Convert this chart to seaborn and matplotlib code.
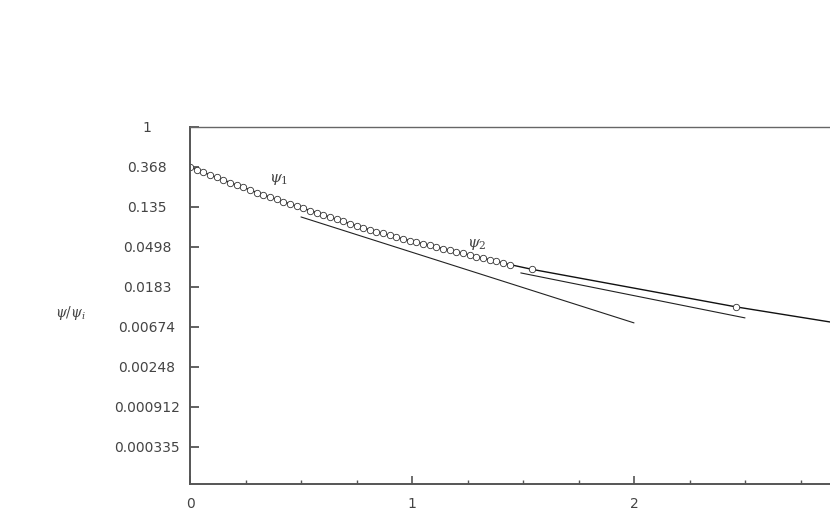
import numpy as np
import pandas as pd
import seaborn as sns
import matplotlib
matplotlib.use('Agg')
import matplotlib.pyplot as plt

# measured curve, natural log of psi/psi_i (axis is e-based)
x_data = [0.00, 0.03, 0.06, 0.09, 0.12, 0.15, 0.18, 0.21, 0.24, 0.27,
          0.30, 0.33, 0.36, 0.39, 0.42, 0.45, 0.48, 0.51, 0.54, 0.57,
          0.60, 0.63, 0.66, 0.69, 0.72, 0.75, 0.78, 0.81, 0.84, 0.87,
          0.90, 0.93, 0.96, 0.99, 1.02, 1.05, 1.08, 1.11, 1.14, 1.17,
          1.20, 1.23, 1.26, 1.29, 1.32, 1.35, 1.38, 1.41, 1.44,
          1.54, 2.46, 3.38]
ln_data = [-1.00, -1.07, -1.13, -1.20, -1.26, -1.32, -1.39, -1.45, -1.51, -1.57,
           -1.64, -1.70, -1.75, -1.81, -1.87, -1.92, -1.98, -2.03, -2.09, -2.14,
           -2.20, -2.25, -2.31, -2.36, -2.42, -2.47, -2.52, -2.57, -2.62, -2.66,
           -2.71, -2.75, -2.80, -2.84, -2.88, -2.92, -2.96, -3.00, -3.04, -3.08,
           -3.12, -3.16, -3.20, -3.24, -3.28, -3.32, -3.36, -3.40, -3.44,
           -3.56, -4.50, -5.32]

# the two straight fits
x_psi1 = [0.50, 2.00]
ln_psi1 = [-2.25, -4.90]
x_psi2 = [1.49, 2.50]
ln_psi2 = [-3.65, -4.775]

ytick_labels = ['1', '0.368', '0.135', '0.0498', '0.0183', '0.00674',
                '0.00248', '0.000912', '0.000335']
xtick_labels = ['0', '1', '2']

df = pd.DataFrame({'x': x_data, 'psi': np.exp(ln_data)})
df1 = pd.DataFrame({'x': x_psi1, 'psi': np.exp(ln_psi1)})
df2 = pd.DataFrame({'x': x_psi2, 'psi': np.exp(ln_psi2)})

sns.set_theme(style="white")
plt.rcParams['font.family'] = ['DejaVu Sans']
plt.rcParams['mathtext.fontset'] = 'dejavuserif'

gray = '#555555'
fig = plt.figure(figsize=(8.3, 5.26), dpi=100)
ax = fig.add_axes([190/830, 42/526, 666/830, 357/526])

sns.lineplot(data=df1, x='x', y='psi', ax=ax, color='#222222', linewidth=0.8, sort=False)
sns.lineplot(data=df2, x='x', y='psi', ax=ax, color='#222222', linewidth=0.8, sort=False)
sns.lineplot(data=df, x='x', y='psi', ax=ax, color='#111111', linewidth=1.0, sort=False,
             estimator=None, marker='o', markersize=4.6, markerfacecolor='white',
             markeredgecolor='#333333', markeredgewidth=0.6)

ax.set_yscale('log')
ax.set_xlim(0, 3.0)
ax.set_ylim(np.exp(-8.93), 1.0)

ax.set_yticks(np.exp(-np.arange(len(ytick_labels))))
ax.set_yticklabels(ytick_labels)
ax.yaxis.set_minor_locator(matplotlib.ticker.NullLocator())
ax.set_xticks(range(len(xtick_labels)))
ax.set_xticklabels(xtick_labels)
ax.set_xticks(np.arange(0, 3.0, 0.25), minor=True)

ax.tick_params(axis='y', which='major', direction='in', length=6.5, width=1.3,
               color=gray, pad=31, labelsize=10, labelcolor='#444444', left=True)
ax.tick_params(axis='x', which='major', direction='in', length=6, width=1.2,
               color=gray, pad=9, labelsize=10, labelcolor='#444444', bottom=True)
ax.tick_params(axis='x', which='minor', direction='in', length=3, width=1.0,
               color=gray, bottom=True)
for t in ax.get_yticklabels():
    t.set_ha('center')

ax.set_xlabel('')
ax.set_ylabel('')
for side in ['left', 'bottom']:
    ax.spines[side].set_color(gray)
    ax.spines[side].set_linewidth(1.4)
ax.spines['top'].set_color('#666666')
ax.spines['top'].set_linewidth(1.0)
ax.spines['right'].set_visible(False)

ax.text(0.40, np.exp(-1.325), r'$\psi_1$', color='#444444', fontsize=11,
        ha='center', va='center')
ax.text(1.293, np.exp(-2.95), r'$\psi_2$', color='#444444', fontsize=11,
        ha='center', va='center')
fig.text(71/830, 1 - 313/526, r'$\psi/\psi_i$', color='#444444', fontsize=10,
         ha='center', va='center')

fig.savefig('out.png', dpi=100)
